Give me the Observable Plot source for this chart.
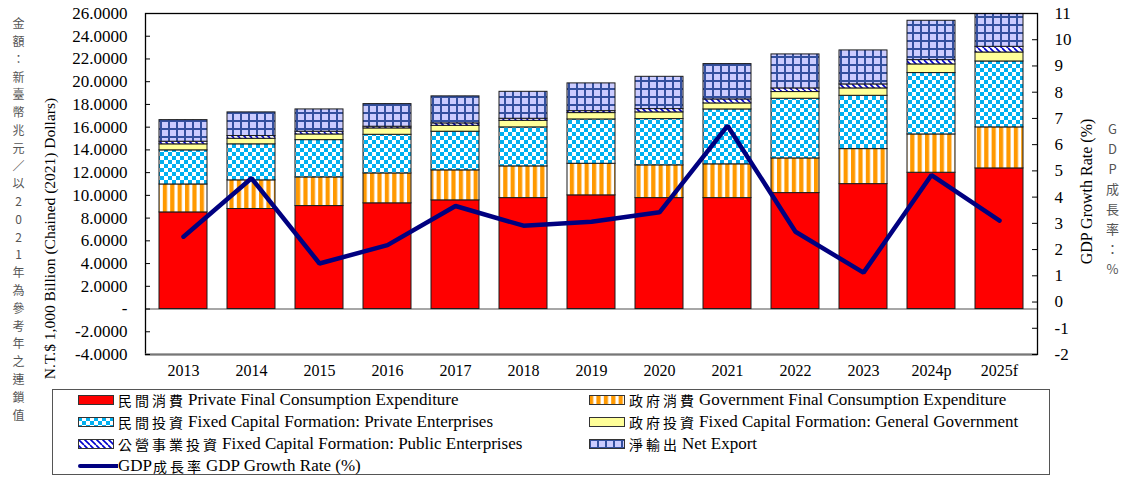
<!DOCTYPE html>
<html><head><meta charset="utf-8">
<script src="https://cdn.jsdelivr.net/npm/d3@7"></script>
<script src="https://cdn.jsdelivr.net/npm/@observablehq/plot@0.6"></script>
<style>
body{margin:0;background:#fff;font-family:"Liberation Serif","Times New Roman",serif;}
#wrap{position:relative;width:1126px;height:477px;overflow:hidden;}
#legend{position:absolute;left:52px;top:389px;width:998px;height:86px;border:1px solid #555;box-sizing:border-box;}
.item{position:absolute;display:flex;align-items:center;font-family:"Liberation Serif",serif;font-size:17px;white-space:nowrap;height:20px;color:#000;}
.item svg{margin-right:4px;flex:none;}
.zh{font-family:"Noto Sans CJK TC";font-size:14px;letter-spacing:3px;margin-right:2px;}
</style></head><body>
<svg width="0" height="0" style="position:absolute">
  <defs>
    <pattern id="pGov" patternUnits="userSpaceOnUse" width="7.4" height="8">
      <rect width="7.4" height="8" fill="#fff"/><rect width="4.2" height="8" fill="#FF9900"/>
    </pattern>
    <pattern id="pPriv" patternUnits="userSpaceOnUse" width="8" height="8">
      <rect width="8" height="8" fill="#fff"/><rect width="4" height="4" fill="#00B0F0"/><rect x="4" y="4" width="4" height="4" fill="#00B0F0"/>
    </pattern>
    <pattern id="pPub" patternUnits="userSpaceOnUse" width="6" height="6">
      <rect width="6" height="6" fill="#fff"/><path d="M0,0L6,6M-3,3L0,6M3,-3L6,0" stroke="#0000CC" stroke-width="1.6"/>
    </pattern>
    <pattern id="pNet" patternUnits="userSpaceOnUse" width="8" height="8">
      <rect width="8" height="8" fill="#CCCCFF"/><rect width="2" height="8" fill="#34509E"/><rect width="8" height="2" fill="#34509E"/>
    </pattern>
  </defs>
</svg>
<div id="wrap"><div id="chart"></div><div id="legend"></div></div>
<script>
const years = ["2013","2014","2015","2016","2017","2018","2019","2020","2021","2022","2023","2024p","2025f"];
const privateConsumption = [8.50, 8.80, 9.06, 9.30, 9.56, 9.76, 10.00, 9.76, 9.76, 10.20, 10.99, 11.99, 12.37];
const governmentConsumption = [2.46, 2.52, 2.52, 2.63, 2.64, 2.79, 2.78, 2.88, 2.97, 3.05, 3.08, 3.37, 3.61];
const privateInvestment = [3.00, 3.17, 3.28, 3.40, 3.40, 3.43, 3.90, 4.07, 4.83, 5.25, 4.69, 5.40, 5.80];
const governmentInvestment = [0.53, 0.49, 0.50, 0.56, 0.52, 0.58, 0.56, 0.59, 0.53, 0.59, 0.65, 0.76, 0.79];
const publicInvestment = [0.23, 0.24, 0.24, 0.15, 0.21, 0.18, 0.17, 0.29, 0.35, 0.32, 0.35, 0.38, 0.50];
const netExport = [1.90, 2.08, 1.96, 1.99, 2.38, 2.37, 2.44, 2.84, 3.11, 2.99, 2.99, 3.46, 3.20];
const growthRate = [2.49, 4.72, 1.47, 2.17, 3.66, 2.91, 3.06, 3.42, 6.72, 2.68, 1.12, 4.84, 3.10];

const seriesKeys = ["pfc", "gfc", "pi", "gi", "pub", "net"];
const seriesZh = ["民間消費", "政府消費", "民間投資", "政府投資", "公營事業投資", "淨輸出"];
const seriesEn = ["Private Final Consumption Expenditure", "Government Final Consumption Expenditure",
  "Fixed Capital Formation: Private Enterprises", "Fixed Capital Formation: General Government",
  "Fixed Capital Formation: Public Enterprises", "Net Export"];
const seriesValues = [privateConsumption, governmentConsumption, privateInvestment, governmentInvestment, publicInvestment, netExport];
const seriesFills = ["#FF0000", "url(#pGov)", "url(#pPriv)", "#FFFF99", "url(#pPub)", "url(#pNet)"];

const leftTicks = [-4, -2, 0, 2, 4, 6, 8, 10, 12, 14, 16, 18, 20, 22, 24, 26];
const rightTicks = [-2, -1, 0, 1, 2, 3, 4, 5, 6, 7, 8, 9, 10, 11];
const leftLabel = "N.T.$ 1,000 Billion (Chained (2021) Dollars)";
const leftLabelZh = "金額：新臺幣兆元／以2021年為參考年之連鎖值";
const rightLabel = "GDP Growth Rate (%)";
const rightLabelZh = "GDP成長率：%";
const lineZh = "成長率";
const lineEn = "GDP Growth Rate (%)";

const rows = years.flatMap((y, i) => seriesKeys.map((k, j) => ({year: y, series: k, value: seriesValues[j][i]})));
const lineRows = years.map((y, i) => ({year: y, g: growthRate[i]}));
const toLeft = g => -4 + (g + 2) * 30 / 13;
const fromLeft = v => (v + 4) * 13 / 30 - 2;

const plot = Plot.plot({
  width: 1126, height: 386,
  marginLeft: 145, marginRight: 89, marginTop: 13, marginBottom: 32,
  style: {fontFamily: "Liberation Serif", fontSize: "16px", background: "white", color: "#000", overflow: "visible"},
  x: {domain: years, paddingInner: 0.29, paddingOuter: 0.145, axis: null},
  y: {domain: [-4, 26], axis: null},
  color: {domain: seriesKeys, range: seriesFills},
  marks: [
    Plot.ruleY([0], {stroke: "#8a8a8a", strokeWidth: 1.5}),
    Plot.barY(rows, {x: "year", y: "value", z: "series", fill: "series", stroke: "#1a1a1a", strokeWidth: 1, clip: true, order: null}),
    Plot.line(lineRows, {x: "year", y: d => toLeft(d.g), stroke: "#000080", strokeWidth: 4.5, strokeLinejoin: "miter"}),
    Plot.frame({stroke: "#000", strokeWidth: 1.3}),
    Plot.ruleY([-4], {stroke: "#777", strokeWidth: 2}),
    Plot.axisY(leftTicks, {anchor: "left", tickSize: 0, tickPadding: 18, label: null, fontSize: 17,
      tickFormat: v => v === 0 ? "-" : v.toFixed(4)}),
    Plot.tickY(leftTicks, {y: d => d, insetRight: 887, stroke: "#000"}),
    Plot.axisY(rightTicks.map(toLeft), {anchor: "right", tickSize: 0, tickPadding: 17, label: null, fontSize: 17,
      tickFormat: v => String(Math.round(fromLeft(v)))}),
    Plot.tickY(rightTicks.map(toLeft), {y: d => d, insetLeft: 887, stroke: "#000"}),
    Plot.axisX({tickSize: 0, tickPadding: 10, label: null, fontSize: 16}),
    Plot.text([leftLabelZh.split("").join("\n")], {frameAnchor: "top-left", dx: -127, dy: 2, lineAnchor: "top",
      lineHeight: 1.483, textAnchor: "middle", fontFamily: "Noto Sans CJK TC", fontSize: 12, fill: "#555"}),
    Plot.text([leftLabel], {frameAnchor: "top-left", dx: -102, dy: 225, rotate: -90, textAnchor: "middle", fontSize: 15.5}),
    Plot.text([rightLabel], {frameAnchor: "top-right", dx: 43, dy: 178, rotate: -90, textAnchor: "middle", fontSize: 16}),
    Plot.text([rightLabelZh.split("").join("\n")], {frameAnchor: "top-right", dx: 75, dy: 106, lineAnchor: "top",
      lineHeight: 1.54, textAnchor: "middle", fontFamily: "Noto Sans CJK TC", fontSize: 13, fill: "#555"})
  ]
});
document.getElementById("chart").appendChild(plot);

// Legend
const legend = document.getElementById("legend");
seriesKeys.forEach((k, idx) => {
  const col = idx % 2, row = Math.floor(idx / 2);
  const div = document.createElement("div");
  div.className = "item";
  div.style.left = (col === 0 ? 25 : 536) + "px";
  div.style.top = (row * 22) + "px";
  div.innerHTML = `<svg width="36" height="10"><rect x="0.5" y="0.5" width="35" height="9" fill="${seriesFills[idx]}" stroke="#333" stroke-width="1"/></svg>` +
    `<span class="zh">${seriesZh[idx]}</span><span>${seriesEn[idx]}</span>`;
  legend.appendChild(div);
});
const li = document.createElement("div");
li.className = "item";
li.style.left = "25px"; li.style.top = "66px";
li.innerHTML = `<svg width="40" height="10" style="margin-right:0"><line x1="2" y1="5" x2="40" y2="5" stroke="#000080" stroke-width="4" stroke-linecap="round"/></svg>` +
  `<span>GDP</span><span class="zh" style="margin-left:1px">${lineZh}</span><span>${lineEn}</span>`;
legend.appendChild(li);
</script>
</body></html>
